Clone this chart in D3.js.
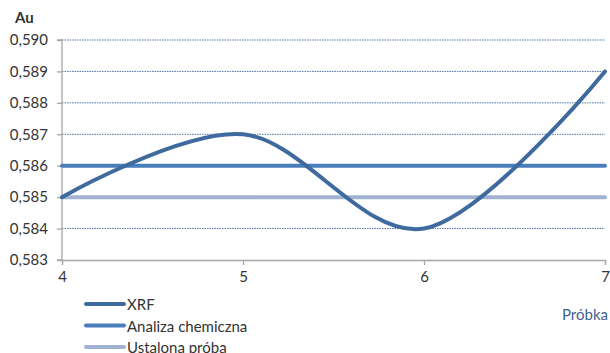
<!DOCTYPE html>
<html>
<head>
<meta charset="utf-8">
<script src="https://cdn.jsdelivr.net/npm/d3@7"></script>
<style>
  body { margin: 0; background: #fff; overflow: hidden; }
  svg text { font-family: Lato, "Open Sans", sans-serif; fill: #333; }
</style>
</head>
<body>
<div id="chart"></div>
<script>
// data
var samples = [4, 5, 6, 7];
var xrf = [0.585, 0.587, 0.584, 0.589];
var chem = [0.586, 0.586, 0.586, 0.586];
var fixed = [0.585, 0.585, 0.585, 0.585];
var yTicks = [0.583, 0.584, 0.585, 0.586, 0.587, 0.588, 0.589, 0.590];
var seriesNames = ["XRF", "Analiza chemiczna", "Ustalona próba"];
var seriesColors = ["#3f6a9e", "#4a7ebb", "#a0b4d2"];

var svgWidth = 610;
var svgHeight = 353;
var margin = { top: 40, right: 5, bottom: 93, left: 62 };
var width = svgWidth - margin.left - margin.right;
var height = svgHeight - margin.top - margin.bottom;

var svg = d3.select("#chart")
    .append("svg")
    .attr("width", svgWidth)
    .attr("height", svgHeight);

var chartGroup = svg.append("g")
    .attr("transform", `translate(${margin.left}, ${margin.top})`);

var xScale = d3.scaleLinear().domain([4, 7]).range([0, width]);
var yScale = d3.scaleLinear().domain([0.583, 0.590]).range([height, 0]);

// dotted gridlines
chartGroup.append("g")
    .selectAll("line")
    .data(yTicks.slice(1))
    .enter()
    .append("line")
    .attr("x1", 0)
    .attr("x2", width)
    .attr("y1", d => yScale(d))
    .attr("y2", d => yScale(d))
    .attr("stroke", "#4a74a8")
    .attr("stroke-width", 1)
    .attr("stroke-dasharray", "1.5,1");

// axes
var fmt = d => d3.format(".3f")(d).replace(".", ",");
var leftAxis = d3.axisLeft(yScale).tickValues(yTicks).tickFormat(fmt).tickSize(5).tickPadding(9);
var bottomAxis = d3.axisBottom(xScale).tickValues(samples).tickFormat(d3.format("d")).tickSize(5).tickPadding(6);

var yAxisG = chartGroup.append("g").call(leftAxis);
var xAxisG = chartGroup.append("g")
    .attr("transform", `translate(0, ${height})`)
    .call(bottomAxis);

[yAxisG, xAxisG].forEach(function (g) {
    g.select(".domain").attr("stroke", "#a6a6a6").attr("stroke-width", 1.3);
    g.selectAll(".tick line").attr("stroke", "#a6a6a6").attr("stroke-width", 1.3);
    g.selectAll(".tick text").style("font-size", "15px").attr("fill", "#333");
});
yAxisG.select(".domain").attr("d", `M-5,${height}H0V0H-5`);

// series lines
var line = d3.line()
    .x((d, i) => xScale(samples[i]))
    .y(d => yScale(d));

var seriesData = [fixed, chem, xrf];
var order = [2, 1, 0];
seriesData.forEach(function (vals, k) {
    var idx = order[k];
    chartGroup.append("path")
        .datum(vals)
        .attr("fill", "none")
        .attr("stroke", seriesColors[idx])
        .attr("stroke-width", 4)
        .attr("stroke-linecap", "round")
        .attr("d", idx === 0 ? line.curve(d3.curveCardinal.tension(0))(vals) : line.curve(d3.curveLinear)(vals));
});

// titles
svg.append("text")
    .attr("x", 15)
    .attr("y", 23)
    .style("font-size", "15px")
    .style("font-weight", "bold")
    .attr("fill", "#222")
    .text("Au");

svg.append("text")
    .attr("x", 608)
    .attr("y", 320)
    .attr("text-anchor", "end")
    .style("font-size", "15px")
    .style("fill", "#3f5f8f")
    .text("Próbka");

// legend
var legend = svg.append("g").selectAll("g")
    .data(seriesNames)
    .enter()
    .append("g")
    .attr("transform", (d, i) => `translate(86, ${304 + i * 21.5})`);

legend.append("line")
    .attr("x1", 0)
    .attr("x2", 38)
    .attr("stroke", (d, i) => seriesColors[i])
    .attr("stroke-width", 4)
    .attr("stroke-linecap", "round");

legend.append("text")
    .attr("x", 41)
    .attr("y", 6)
    .style("font-size", "15px")
    .text(d => d);
</script>
</body>
</html>
